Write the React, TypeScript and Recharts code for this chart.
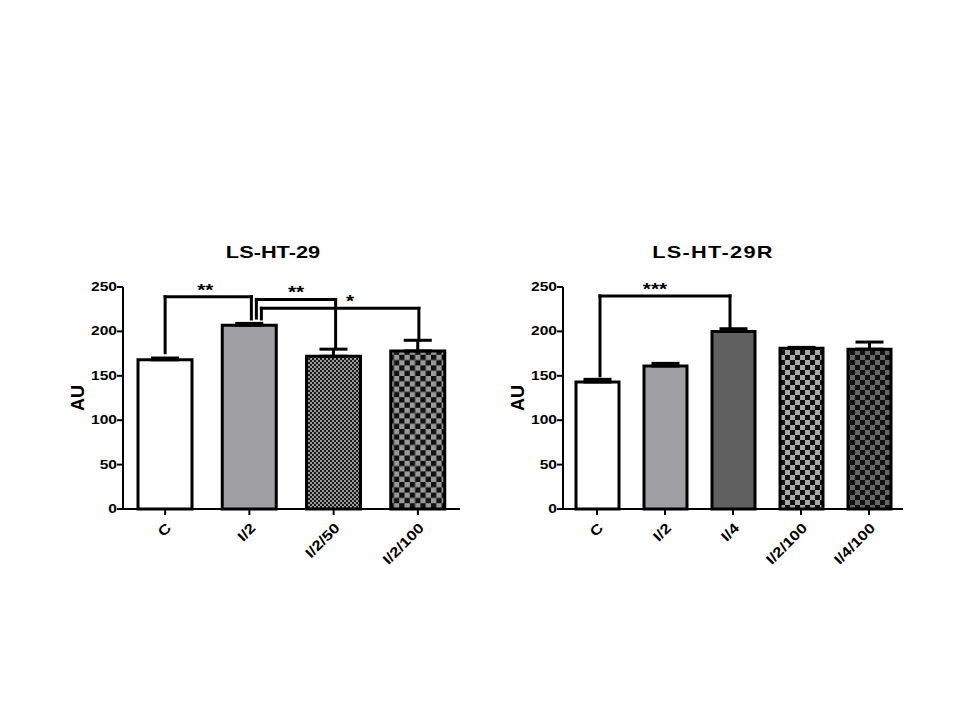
import React from "react";
import { BarChart, Bar, XAxis, YAxis, Cell, ErrorBar, ReferenceLine } from "recharts";

const leftCategories = ["C", "I/2", "I/2/50", "I/2/100"];
const leftMeans = [168, 207, 172, 178];
const leftErrors = [2, 2, 8, 12];

const rightCategories = ["C", "I/2", "I/4", "I/2/100", "I/4/100"];
const rightMeans = [143, 161, 200, 181, 180];
const rightErrors = [3, 3, 3, 1, 8];

const yTicks = [0, 50, 100, 150, 200, 250];

// significance brackets: categories, leg bottoms, bar height of bracket, stars
const leftBrackets = [
  { from: "C", to: "I/2", fromY: 176, toY: 214, top: 239, stars: "**" },
  { from: "I/2", to: "I/2/50", fromY: 215, toY: 182, top: 236, stars: "**" },
  { from: "I/2", to: "I/2/100", fromY: 214, toY: 190, top: 226, stars: "*" },
];
const rightBrackets = [{ from: "C", to: "I/4", fromY: 150, toY: 205, top: 240, stars: "***" }];

const leftShift = [[0, 2], [7, 2], [12, 1]];
const rightShift = [[3, -3]];
const starShift = [[-3, 0, 10], [-10]];

const leftFills = ["#ffffff", "#a0a0a4", "url(#fineCheck)", "url(#checkGrayL)"];
const rightFills = ["#ffffff", "#a0a0a4", "#606060", "url(#checkGrayR)", "url(#checkDarkR)"];

const FONT = "'Liberation Sans', Arial, sans-serif";
const STRETCH = 1.3;

const toRows = (cats: string[], means: number[], errs: number[]) =>
  cats.map((name, i) => ({ name, value: means[i], err: [0, errs[i]] }));

function YTick({ x, y, payload }: any) {
  return (
    <g transform={`translate(${x + 2},${y + 4}) scale(${STRETCH},1)`}>
      <text textAnchor="end" fontFamily={FONT} fontWeight="bold" fontSize={12} fill="#000">
        {payload.value}
      </text>
    </g>
  );
}

function XTick({ x, y, payload }: any) {
  return (
    <g transform={`translate(${x + 7},${y + 12}) rotate(-45) scale(1.2,1)`}>
      <text textAnchor="end" fontFamily={FONT} fontWeight="bold" fontSize={14} fill="#000">
        {payload.value}
      </text>
    </g>
  );
}

const auLabel = (props: any) => {
  const vb = props.viewBox;
  const cx = vb.x + 24;
  const cy = vb.y + vb.height / 2;
  return (
    <text
      transform={`translate(${cx},${cy}) rotate(-90)`}
      textAnchor="middle"
      fontFamily={FONT}
      fontWeight="bold"
      fontSize={18}
      fill="#000"
    >
      AU
    </text>
  );
};

const leg = (dx: number) => (p: any) => (
  <line x1={p.x1 + dx} y1={p.y1} x2={p.x2 + dx} y2={p.y2} stroke="#000" strokeWidth={3} strokeLinecap="square" />
);

const topBar = (dx1: number, dx2: number, stars: string, sdx: number) => (p: any) => {
  const mx = (p.x1 + dx1 + p.x2 + dx2) / 2 + sdx;
  return (
    <g>
      <line x1={p.x1 + dx1} y1={p.y1} x2={p.x2 + dx2} y2={p.y2} stroke="#000" strokeWidth={3} strokeLinecap="square" />
      <g transform={`translate(${mx},${p.y1 - 1}) scale(${STRETCH},1)`}>
        <text textAnchor="middle" fontFamily={FONT} fontWeight="bold" fontSize={16} fill="#000">
          {stars}
        </text>
      </g>
    </g>
  );
};

function brackets(list: typeof leftBrackets, shifts: number[][], sdx: number[]) {
  return list.flatMap((b, i) => [
    <ReferenceLine
      key={`a${i}`}
      segment={[{ x: b.from, y: b.fromY }, { x: b.from, y: b.top }]}
      shape={leg(shifts[i][0])}
    />,
    <ReferenceLine
      key={`b${i}`}
      segment={[{ x: b.to, y: b.toY }, { x: b.to, y: b.top }]}
      shape={leg(shifts[i][1])}
    />,
    <ReferenceLine
      key={`c${i}`}
      segment={[{ x: b.from, y: b.top }, { x: b.to, y: b.top }]}
      shape={topBar(shifts[i][0], shifts[i][1], b.stars, sdx[i])}
    />,
  ]);
}

function checker(id: string, size: number, bg: string, fg: string) {
  return (
    <pattern id={id} patternUnits="userSpaceOnUse" width={size * 2} height={size * 2}>
      <rect width={size * 2} height={size * 2} fill={bg} />
      <rect width={size} height={size} fill={fg} />
      <rect x={size} y={size} width={size} height={size} fill={fg} />
    </pattern>
  );
}

function Panel({ rows, fills, barSize, width, list, shifts, sdx, defs }: any) {
  return (
    <BarChart width={width} height={310} data={rows} margin={{ top: 17, right: 10, left: 0, bottom: 0 }}>
      <defs>{defs}</defs>
      <XAxis
        dataKey="name"
        height={71}
        tickSize={6}
        interval={0}
        tick={<XTick />}
        axisLine={{ stroke: "#000", strokeWidth: 2 }}
        tickLine={{ stroke: "#000", strokeWidth: 2 }}
      />
      <YAxis
        width={63}
        domain={[0, 250]}
        ticks={yTicks}
        interval={0}
        tickSize={6}
        tick={<YTick />}
        axisLine={{ stroke: "#000", strokeWidth: 2 }}
        tickLine={{ stroke: "#000", strokeWidth: 2 }}
        label={{ content: auLabel }}
      />
      <Bar dataKey="value" barSize={barSize} stroke="#000" strokeWidth={3} isAnimationActive={false}>
        {rows.map((r: any, i: number) => (
          <Cell key={r.name} fill={fills[i]} />
        ))}
        <ErrorBar dataKey="err" direction="y" width={14} stroke="#000" strokeWidth={3} isAnimationActive={false} />
      </Bar>
      {brackets(list, shifts, sdx)}
    </BarChart>
  );
}

const titleStyle: React.CSSProperties = {
  position: "absolute",
  top: 242,
  width: 200,
  textAlign: "center",
  fontFamily: FONT,
  fontWeight: "bold",
  fontSize: 17,
  lineHeight: "22px",
  transform: "scaleX(1.28)",
};

export default function App() {
  return (
    <div style={{ position: "absolute", left: 0, top: 0, width: 960, height: 720, background: "#fff" }}>
      <div style={{ ...titleStyle, left: 173 }}>LS-HT-29</div>
      <div style={{ ...titleStyle, left: 613, letterSpacing: 1 }}>LS-HT-29R</div>
      <div style={{ position: "absolute", left: 60, top: 270 }}>
        <Panel
          rows={toRows(leftCategories, leftMeans, leftErrors)}
          fills={leftFills}
          barSize={54}
          width={410}
          list={leftBrackets}
          shifts={leftShift}
          sdx={starShift[0]}
          defs={[checker("fineCheck", 2, "#9a9a9a", "#1a1a1a"), checker("checkGrayL", 5.3, "#9a9a9a", "#111")]}
        />
      </div>
      <div style={{ position: "absolute", left: 500, top: 270 }}>
        <Panel
          rows={toRows(rightCategories, rightMeans, rightErrors)}
          fills={rightFills}
          barSize={43}
          width={413}
          list={rightBrackets}
          shifts={rightShift}
          sdx={starShift[1]}
          defs={[checker("checkGrayR", 5, "#a8a8a8", "#111"), checker("checkDarkR", 5, "#666666", "#111")]}
        />
      </div>
    </div>
  );
}
